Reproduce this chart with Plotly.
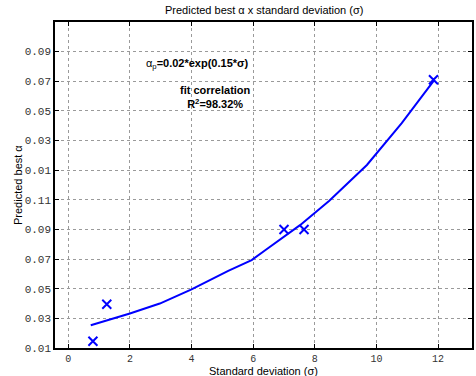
import plotly.graph_objects as go

# Observed data points (standard deviation, predicted best alpha)
sigma_pts = [0.80, 1.25, 7.00, 7.65, 11.85]
alpha_pts = [0.0145, 0.0395, 0.090, 0.090, 0.191]

# Fitted curve
sigma_fit = [0.73, 2.0, 2.97, 4.0, 5.19, 5.95, 6.39, 7.52, 8.47, 9.69, 10.82, 11.88]
alpha_fit = [0.0253, 0.0333, 0.0400, 0.0495, 0.0620, 0.0693, 0.0760, 0.0929, 0.1094, 0.1335, 0.1617, 0.191]

x_tickvals = [0, 2, 4, 6, 8, 10, 12]
x_ticktext = ["0", "2", "4", "6", "8", "10", "12"]
y_tickvals = [0.01, 0.03, 0.05, 0.07, 0.09, 0.11, 0.13, 0.15, 0.17, 0.19, 0.21]
y_ticktext = ["0.01", "0.03", "0.05", "0.07", "0.09", "0.11",
              "0.01", "0.03", "0.05", "0.07", "0.09"]

title_text = "Predicted best α x standard deviation (σ)"
xlabel = "Standard deviation (σ)"
ylabel = "Predicted best α"
eq_text = "α<sub>p</sub><b>=0.02*exp(0.15*σ)</b>"
fit_text = "<b>fit correlation</b><br><b>R<sup>2</sup>=98.32%</b>"

BLUE = "#0000ff"
SANS = "Liberation Sans, Arial, sans-serif"
MONO = "Liberation Mono, Courier New, monospace"

fig = go.Figure()
fig.add_trace(go.Scatter(x=sigma_fit, y=alpha_fit, mode="lines",
                         line=dict(color=BLUE, width=2), showlegend=False))
fig.add_trace(go.Scatter(x=sigma_pts, y=alpha_pts, mode="markers",
                         marker=dict(symbol="x-thin", size=9, color=BLUE,
                                     line=dict(color=BLUE, width=2)),
                         showlegend=False))

axis_common = dict(showline=True, linecolor="black", linewidth=1.5, mirror="ticks",
                   ticks="inside", ticklen=4, tickcolor="black", tickwidth=1,
                   showgrid=True, gridcolor="#9a9a9a", griddash="dot", gridwidth=1,
                   zeroline=False, automargin=False)

fig.update_xaxes(range=[-0.43, 13.1], tickmode="array", tickvals=x_tickvals,
                 ticktext=x_ticktext, ticklabelstandoff=0,
                 tickfont=dict(family=MONO, size=10, color="#333333"), **axis_common)
fig.update_yaxes(range=[0.01, 0.23], tickmode="array", tickvals=y_tickvals,
                 ticktext=y_ticktext,
                 tickfont=dict(family=MONO, size=11, color="#333333"), **axis_common)

fig.update_layout(
    width=476, height=376,
    margin=dict(l=55, r=4, t=22, b=28),
    plot_bgcolor="white", paper_bgcolor="white",
    font=dict(family=SANS, size=11, color="black"),
    annotations=[
        dict(text=title_text, xref="paper", yref="paper", x=0.5, y=1, yshift=12,
             showarrow=False, xanchor="center", yanchor="middle",
             font=dict(family=SANS, size=11)),
        dict(text=xlabel, xref="paper", yref="paper", x=0.5, y=0, yshift=-23,
             showarrow=False, xanchor="center", yanchor="middle",
             font=dict(family=SANS, size=11)),
        dict(text=ylabel, xref="paper", yref="paper", x=0, y=0.5, xshift=-37,
             showarrow=False, xanchor="center", yanchor="middle", textangle=-90,
             font=dict(family=SANS, size=11)),
        dict(text=eq_text, xref="paper", yref="paper", x=(144 - 55) / 417, y=(348 - 64) / 326,
             showarrow=False, xanchor="left", yanchor="middle",
             font=dict(family=SANS, size=11)),
        dict(text=fit_text, xref="paper", yref="paper", x=(215 - 55) / 417, y=(348 - 97) / 326,
             showarrow=False, xanchor="center", yanchor="middle", align="center",
             font=dict(family=SANS, size=11)),
    ],
)

fig.write_html("out.html")
